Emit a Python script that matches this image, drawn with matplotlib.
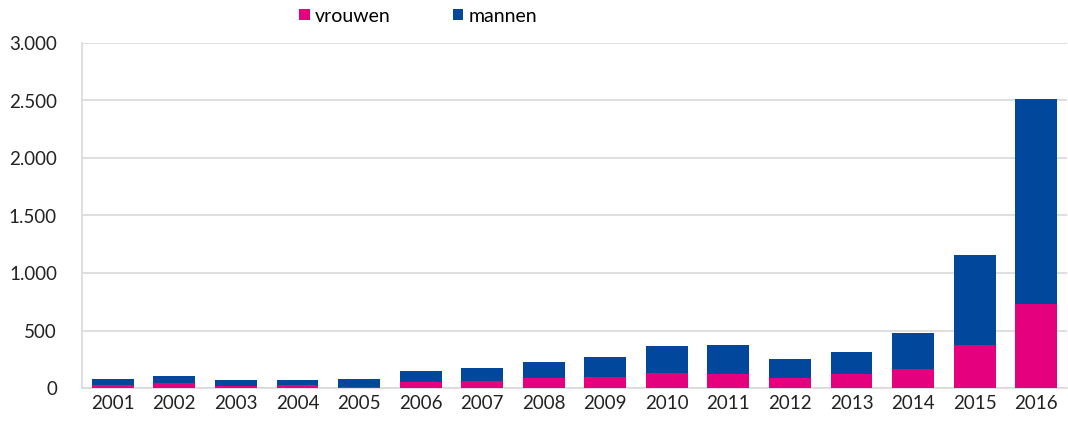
import numpy as np
import matplotlib
matplotlib.use("Agg")
import matplotlib.pyplot as plt
from matplotlib.ticker import FuncFormatter

years = ["2001", "2002", "2003", "2004", "2005", "2006", "2007", "2008",
         "2009", "2010", "2011", "2012", "2013", "2014", "2015", "2016"]
vrouwen = [23, 43, 17, 23, 5, 52, 61, 87, 93, 128, 125, 87, 121, 165, 370, 728]
totaal = [82, 102, 73, 67, 76, 151, 177, 223, 273, 369, 370, 255, 309, 474, 1159, 2510]
mannen = [t - v for t, v in zip(totaal, vrouwen)]

pink = "#E5007E"
blue = "#01479B"
grid_col = "#D9D9D9"

plt.rcParams["font.family"] = ["Lato", "DejaVu Sans"]

fig = plt.figure(figsize=(10.68, 4.23), dpi=100)
ax = fig.add_axes([82 / 1068, 35 / 423, 985 / 1068, 345 / 423])

x = np.arange(len(years))
ax.bar(x, vrouwen, width=0.68, color=pink, label="vrouwen", zorder=3)
ax.bar(x, mannen, width=0.68, bottom=vrouwen, color=blue, label="mannen", zorder=3)

ax.set_xlim(-0.5, len(years) - 0.5)
ax.set_ylim(0, 3000)
ax.set_yticks(np.arange(0, 3001, 500))
ax.yaxis.set_major_formatter(FuncFormatter(lambda v, p: "{:,.0f}".format(v).replace(",", ".")))
ax.set_xticks(x)
ax.set_xticklabels(years)
ax.tick_params(axis="both", length=0, labelsize=13.5, colors="#222222")
ax.tick_params(axis="y", pad=18)
ax.tick_params(axis="x", pad=5)

ax.yaxis.grid(True, color=grid_col, linewidth=1.2, zorder=0)
for s in ["top", "right"]:
    ax.spines[s].set_visible(False)
ax.spines["left"].set_color(grid_col)
ax.spines["left"].set_linewidth(1.2)
ax.spines["bottom"].set_color(grid_col)
ax.spines["bottom"].set_linewidth(1.2)

fig.legend(loc="center", bbox_to_anchor=(418 / 1068, 1 - 16 / 423), ncol=2,
           frameon=False, fontsize=14, handlelength=0.55, handleheight=0.55,
           handletextpad=0.25, columnspacing=3.2)

fig.savefig("out.png", dpi=100)
